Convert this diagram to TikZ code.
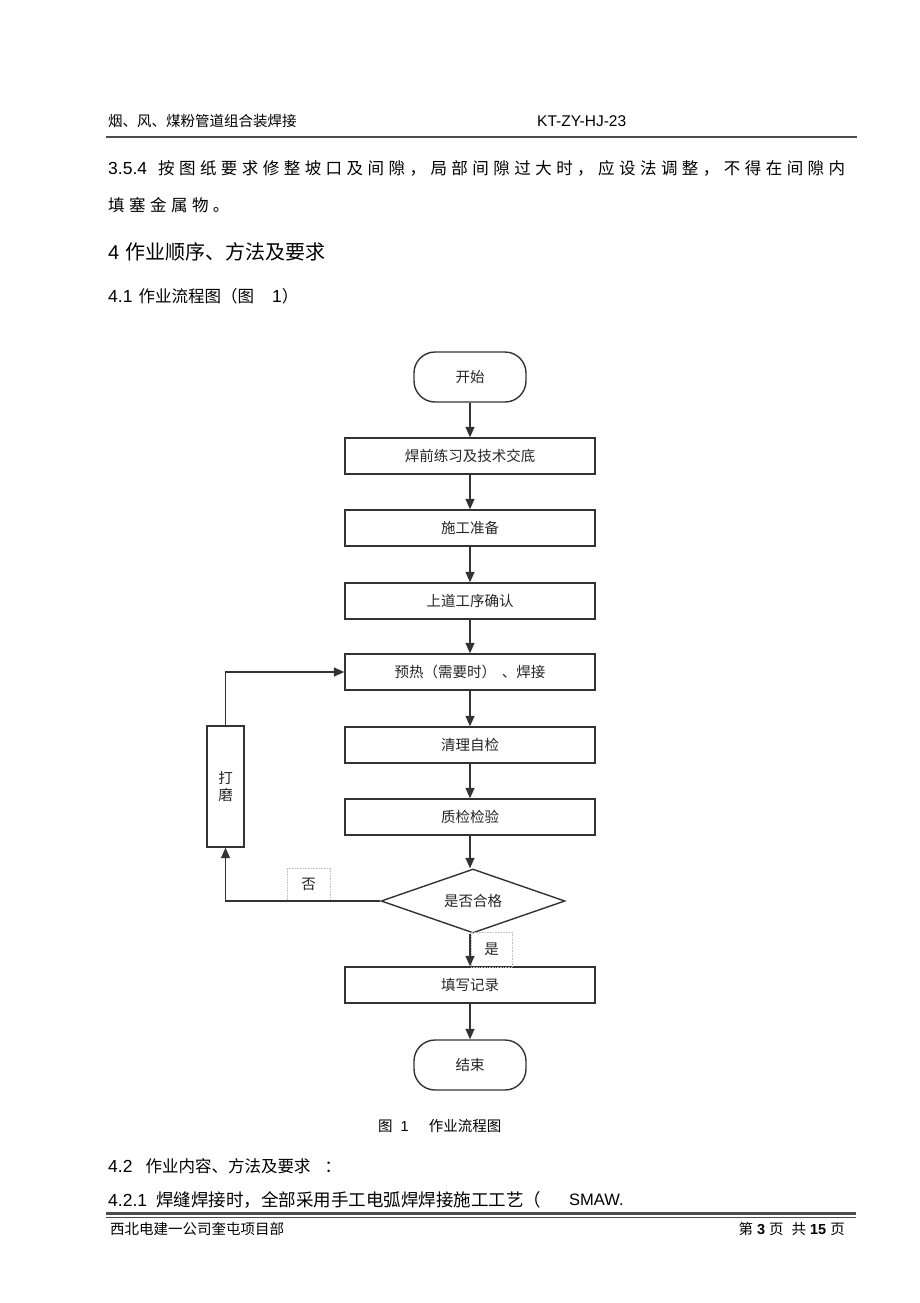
\documentclass[tikz,border=0pt]{standalone}
\usepackage{fontspec}
\setmainfont{Liberation Sans}
\newfontfamily\cjk{Noto Sans CJK SC}
\newfontfamily\cjksp{Noto Sans CJK SC}[LetterSpace=27]
\usetikzlibrary{shapes.geometric,arrows.meta}
\begin{document}
\begin{tikzpicture}[x=1pt,y=-1pt,
  txt/.style={anchor=west,inner sep=0pt,text=black},
  proc/.style={draw=black!80,line width=1.4pt,minimum width=250pt,minimum height=36pt,inner sep=0pt,font=\cjk\fontsize{14.5}{14.5}\selectfont,text=black!85},
  term/.style={proc,minimum width=112pt,minimum height=50pt,rounded corners=21pt},
  dec/.style={diamond,draw=black!80,line width=1.4pt,minimum width=184pt,minimum height=64pt,aspect=3,inner sep=0pt,font=\cjk\fontsize{14.5}{14.5}\selectfont,text=black!85},
  flow/.style={draw=black!80,line width=1.4pt,-{Triangle[width=9pt,length=10.5pt]}},
  lab/.style={draw=black!25,densely dotted,line width=0.6pt,inner sep=0pt,font=\cjk\fontsize{14.5}{14.5}\selectfont,text=black!85},
  rule/.style={draw=black!70}
]
\useasboundingbox[fill=white] (0,0) rectangle (920,1303);
% header
\node[txt,font=\cjk\fontsize{14.5}{15}\selectfont] (h1) at (108,121) {烟、风、煤粉管道组合装焊接};
\node[txt,font=\fontsize{15.5}{16}\selectfont] (h2) at (537,121) {KT-ZY-HJ-23};
\coordinate (hl1) at (106,137);
\coordinate (hl2) at (857,137);
\draw[rule,line width=2.6pt] (hl1) -- (hl2);
% body text
\node[txt] (t1) at (108,168) {\fontsize{17.5}{18}\selectfont 3.5.4\hspace{11pt}{\cjksp\fontsize{16.5}{17}\selectfont 按图纸要求修整坡口及间隙，局部间隙过大时，应设法调整，不得在间隙内}};
\node[txt] (t2) at (108,205) {\cjksp\fontsize{16.5}{17}\selectfont 填塞金属物。};
\node[txt] (t3) at (108,252) {\fontsize{20}{21}\selectfont 4\hspace{6pt}{\cjk 作业顺序、方法及要求}};
\node[txt] (t4) at (108,296) {\fontsize{17.5}{18}\selectfont 4.1\hspace{6pt}{\cjk\fontsize{16.5}{17}\selectfont 作业流程图（图}\hspace{18pt}1{\cjk\fontsize{16.5}{17}\selectfont ）}};
% flowchart
\node[term] (start) at (470,377) {开始};
\node[proc] (b1) at (470,456) {焊前练习及技术交底};
\node[proc] (b2) at (470,528) {施工准备};
\node[proc] (b3) at (470,601) {上道工序确认};
\node[proc] (b4) at (470,672) {预热（需要时）\hspace{6pt}、焊接};
\node[proc] (b5) at (470,745) {清理自检};
\node[proc] (b6) at (470,817) {质检检验};
\node[dec] (dec) at (473,901) {是否合格};
\node[proc] (b7) at (470,985) {填写记录};
\node[term] (end) at (470,1065) {结束};
\node[proc,minimum width=37pt,minimum height=121pt,align=center,font=\cjk\fontsize{14.5}{17}\selectfont] (grind) at (225.5,786.5) {打\\磨};
\node[lab,minimum width=43pt,minimum height=33pt] (no) at (308.5,884.5) {否};
\node[lab,minimum width=41pt,minimum height=35pt] (yes) at (491.5,949.5) {是};
\draw[flow] (start) -- (b1);
\draw[flow] (b1) -- (b2);
\draw[flow] (b2) -- (b3);
\draw[flow] (b3) -- (b4);
\draw[flow] (b4) -- (b5);
\draw[flow] (b5) -- (b6);
\draw[flow] (b6) -- (dec.north -| b6.south);
\draw[flow] (dec.south -| b7.north) -- (b7);
\draw[flow] (b7) -- (end);
\draw[flow] (dec.west) -| (grind.south);
\draw[flow] (grind.north) |- (b4.west);
% caption
\node[txt,font=\cjk\fontsize{14.5}{14.5}\selectfont] (cap) at (378,1126) {图\hspace{8pt}{\fontspec{Liberation Sans}1}\hspace{20pt}作业流程图};
% lower text
\node[txt] (t5) at (108,1166) {\fontsize{17.5}{18}\selectfont 4.2\hspace{13pt}{\cjk\fontsize{16.5}{17}\selectfont 作业内容、方法及要求\hspace{14pt}：}};
\node[txt] (t6) at (108,1200) {\fontsize{17.5}{18}\selectfont 4.2.1\hspace{9pt}{\cjk\fontsize{17.5}{18}\selectfont 焊缝焊接时，全部采用手工电弧焊焊接施工工艺（}};
\node[txt,font=\fontsize{16.5}{17}\selectfont] (t7) at (569,1200) {SMAW.};
% footer
\coordinate (fl1) at (106,1213.5);
\coordinate (fl2) at (856,1213.5);
\coordinate (fl3) at (106,1217.5);
\coordinate (fl4) at (856,1217.5);
\draw[rule,line width=2.6pt] (fl1) -- (fl2);
\draw[rule,line width=1pt] (fl3) -- (fl4);
\node[txt,font=\cjk\fontsize{14.5}{15}\selectfont] (f1) at (110,1229) {西北电建一公司奎屯项目部};
\node[inner sep=0pt,anchor=east,font=\cjk\fontsize{14.5}{15}\selectfont] (f2) at (845,1229) {第\hspace{4pt}{\fontspec{Liberation Sans}\bfseries 3}\hspace{4pt}页\hspace{8pt}共\hspace{4pt}{\fontspec{Liberation Sans}\bfseries 15}\hspace{4pt}页};
\end{tikzpicture}
\end{document}
